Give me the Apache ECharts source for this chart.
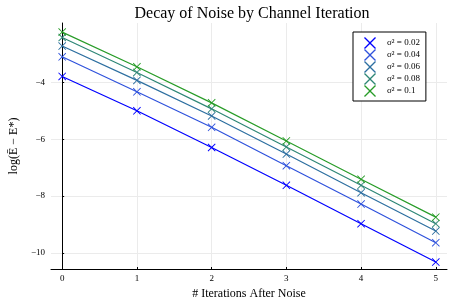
<!DOCTYPE html>
<html><head><meta charset="utf-8">
<script src="https://cdn.jsdelivr.net/npm/echarts@6/dist/echarts.min.js"></script>
<style>html,body{margin:0;padding:0;background:#fff}#c{width:457px;height:305px}</style>
</head><body><div id="c"></div>
<script>
const iterations = [0, 1, 2, 3, 4, 5];
const seriesNames = ['σ² = 0.02', 'σ² = 0.04', 'σ² = 0.06', 'σ² = 0.08', 'σ² = 0.1'];
const s002 = [-3.79, -5.00, -6.29, -7.62, -8.97, -10.32];
const s004 = [-3.10, -4.33, -5.58, -6.93, -8.28, -9.64];
const s006 = [-2.72, -3.93, -5.18, -6.52, -7.88, -9.23];
const s008 = [-2.42, -3.65, -4.93, -6.27, -7.62, -8.97];
const s010 = [-2.23, -3.45, -4.72, -6.06, -7.41, -8.74];
const xTicks = [0, 1, 2, 3, 4, 5];
const yTicks = [-10, -8, -6, -4];

const allValues = [s002, s004, s006, s008, s010];
const colors = ['#0000ff', '#2f52dc', '#2d6fa0', '#2e8676', '#289c28'];
const X = 'path://M0,0.8L0.8,0L5,4.2L9.2,0L10,0.8L5.8,5L10,9.2L9.2,10L5,5.8L0.8,10L0,9.2L4.2,5Z';
const serif = '"Liberation Serif", "DejaVu Serif", serif';
const fmt = v => (v < 0 ? '\u2212' + Math.abs(v) : String(v));

const chart = echarts.init(document.getElementById('c'), null, {renderer: 'canvas'});
chart.setOption({
  animation: false,
  backgroundColor: '#fff',
  title: {
    text: 'Decay of Noise by Channel Iteration',
    left: 247, top: 1, textAlign: 'center',
    textStyle: {fontFamily: serif, fontSize: 16, fontWeight: 'normal', color: '#000'}
  },
  grid: {left: 46, right: 10, top: 23, bottom: 32, containLabel: false},
  legend: {
    left: 353, top: 32, orient: 'vertical',
    backgroundColor: '#fff', borderColor: '#000', borderWidth: 1,
    padding: [5, 6, 4, 11], itemGap: 0, itemWidth: 12, itemHeight: 12,
    textStyle: {fontFamily: serif, fontSize: 9, color: '#000', padding: [0, 0, 0, 6]},
    data: seriesNames.map(n => ({name: n, icon: X}))
  },
  xAxis: {
    type: 'value', min: -0.15, max: 5.15,
    name: '# Iterations After Noise', nameLocation: 'middle', nameGap: 19,
    nameTextStyle: {fontFamily: serif, fontSize: 12, color: '#000'},
    axisLine: {show: true, lineStyle: {color: '#000', width: 1}},
    axisTick: {show: true, inside: true, length: 2, customValues: xTicks, lineStyle: {color: '#000'}},
    axisLabel: {customValues: xTicks, formatter: fmt, fontFamily: serif, fontSize: 9, color: '#000', margin: 5},
    splitLine: {show: true, lineStyle: {color: '#ebebeb', width: 1}}
  },
  yAxis: {
    type: 'value', min: -10.565, max: -1.91,
    name: 'log(Ē − E*)', nameLocation: 'middle', nameGap: 25, nameRotate: 90,
    nameTextStyle: {fontFamily: serif, fontSize: 12, color: '#000'},
    axisLine: {show: true, lineStyle: {color: '#000', width: 1}},
    axisTick: {show: true, inside: true, length: 2, customValues: yTicks, lineStyle: {color: '#000'}},
    axisLabel: {customValues: yTicks, formatter: fmt, fontFamily: serif, fontSize: 9, color: '#000', margin: 6},
    splitLine: {show: true, lineStyle: {color: '#ebebeb', width: 1}}
  },
  series: allValues.map((vals, i) => ({
    name: seriesNames[i], type: 'line',
    data: iterations.map((x, j) => [x, vals[j]]),
    symbol: X, symbolSize: 8, showSymbol: true,
    lineStyle: {color: colors[i], width: 1.2},
    itemStyle: {color: colors[i]},
    z: 2 + i
  }))
});
</script></body></html>
